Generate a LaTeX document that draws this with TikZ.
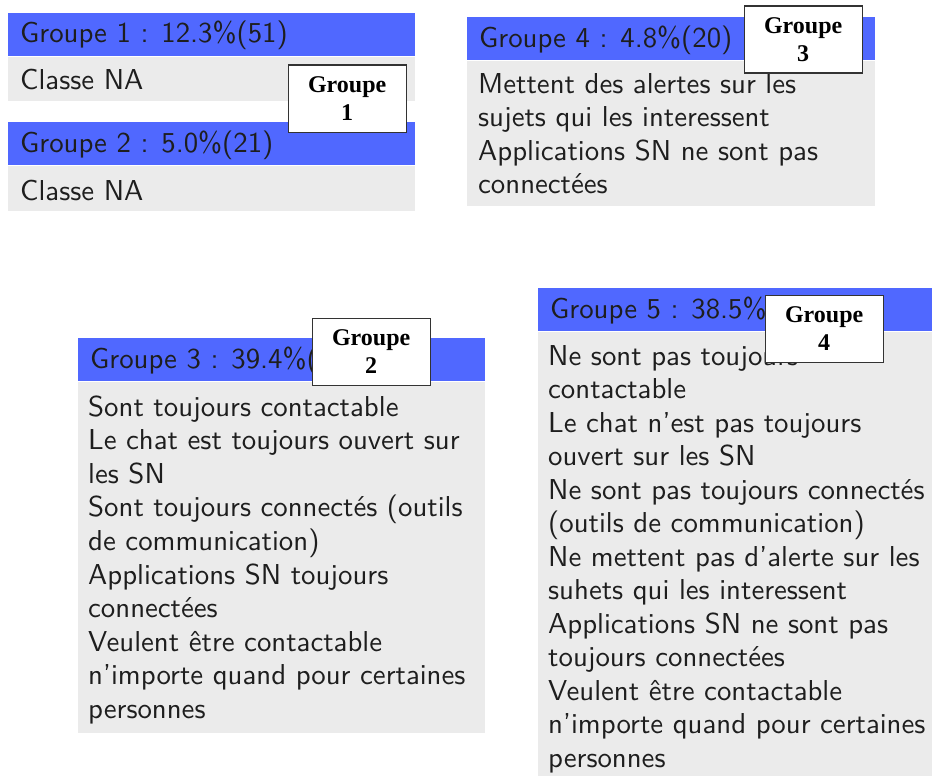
\documentclass[tikz,border=0pt]{standalone}
\usepackage{fontspec}
\newfontfamily\labfont{Liberation Serif}
\newfontfamily\bsans{lmsans10-regular.otf}
\definecolor{hblue}{HTML}{5068FF}
\definecolor{bgray}{HTML}{EBEBEB}
\definecolor{tcol}{HTML}{1E1E1E}
\definecolor{lcol}{HTML}{333333}
\tikzset{
  hdr/.style={fill=hblue, draw=none, inner sep=0pt, anchor=north west, minimum height=43pt},
  bodybox/.style={fill=bgray, draw=none, inner sep=0pt, anchor=north west},
  txt/.style={inner sep=0pt, anchor=base west, text=tcol, font=\bsans\fontsize{28.8}{33.6}\selectfont},
  lab/.style={draw=lcol, line width=1.3pt, fill=white, align=center, inner sep=0pt, anchor=north west,
    minimum width=118pt, minimum height=67pt, text=black, font=\labfont\bfseries\fontsize{24}{28}\selectfont}
}
\begin{document}
\begin{tikzpicture}[x=1pt,y=-1pt]
\useasboundingbox (0,0) rectangle (932,776);
% Groupe 1
\node[hdr, minimum width=407pt] (ah) at (8,13) {};
\node[bodybox, minimum width=407pt, minimum height=44pt] (ab) at (ah.south west) {};
\node[txt] (aht) at (20,43) {Groupe 1 : 12.3\%(51)};
\node[txt] (abt) at (20,89) {Classe NA};
% Groupe 2
\node[hdr, minimum width=407pt] (bh) at (8,122) {};
\node[bodybox, minimum width=407pt, minimum height=45pt] (bb) at (bh.south west) {};
\node[txt] (bht) at (20,152) {Groupe 2 : 5.0\%(21)};
\node[txt] (bbt) at (20,200) {Classe NA};
% Groupe 4
\node[hdr, minimum width=408pt] (ch) at (467,17) {};
\node[bodybox, minimum width=408pt, minimum height=145pt] (cb) at (ch.south west) {};
\node[txt] (cht) at (479,48) {Groupe 4 : 4.8\%(20)};
\foreach \t [count=\i from 0] in {{Mettent des alertes sur les},{sujets qui les interessent},{Applications SN ne sont pas},{connectées}}
  \node[txt] (c\i) at (478,93+33.6*\i) {\t};
% Groupe 3
\node[hdr, minimum width=407pt] (dh) at (78,338) {};
\node[bodybox, minimum width=407pt, minimum height=351pt] (db) at (dh.south west) {};
\node[txt] (dht) at (90,368) {Groupe 3 : 39.4\%(};
\foreach \t [count=\i from 0] in {{Sont toujours contactable},{Le chat est toujours ouvert sur},{les SN},{Sont toujours connectés (outils},{de communication)},{Applications SN toujours},{connectées},{Veulent être contactable},{n’importe quand pour certaines},{personnes}}
  \node[txt] (d\i) at (88,416+33.6*\i) {\t};
% Groupe 5
\node[hdr, minimum width=394pt] (eh) at (538,288) {};
\node[bodybox, minimum width=394pt, minimum height=445pt] (eb) at (eh.south west) {};
\node[txt] (eht) at (550,318) {Groupe 5 : 38.5\%};
\foreach \t [count=\i from 0] in {{Ne sont pas toujours},{contactable},{Le chat n’est pas toujours},{ouvert sur les SN},{Ne sont pas toujours connectés},{(outils de communication)},{Ne mettent pas d’alerte sur les},{suhets qui les interessent},{Applications SN ne sont pas},{toujours connectées},{Veulent être contactable},{n’importe quand pour certaines},{personnes}}
  \node[txt] (e\i) at (548,365+33.5*\i) {\t};
% labels
\node[lab] (l1) at (287.5,64.5) {Groupe\\1};
\node[lab] (l3) at (743.5,5.5) {Groupe\\3};
\node[lab] (l2) at (311.5,317.5) {Groupe\\2};
\node[lab] (l4) at (764.5,294.5) {Groupe\\4};
\end{tikzpicture}
\end{document}
